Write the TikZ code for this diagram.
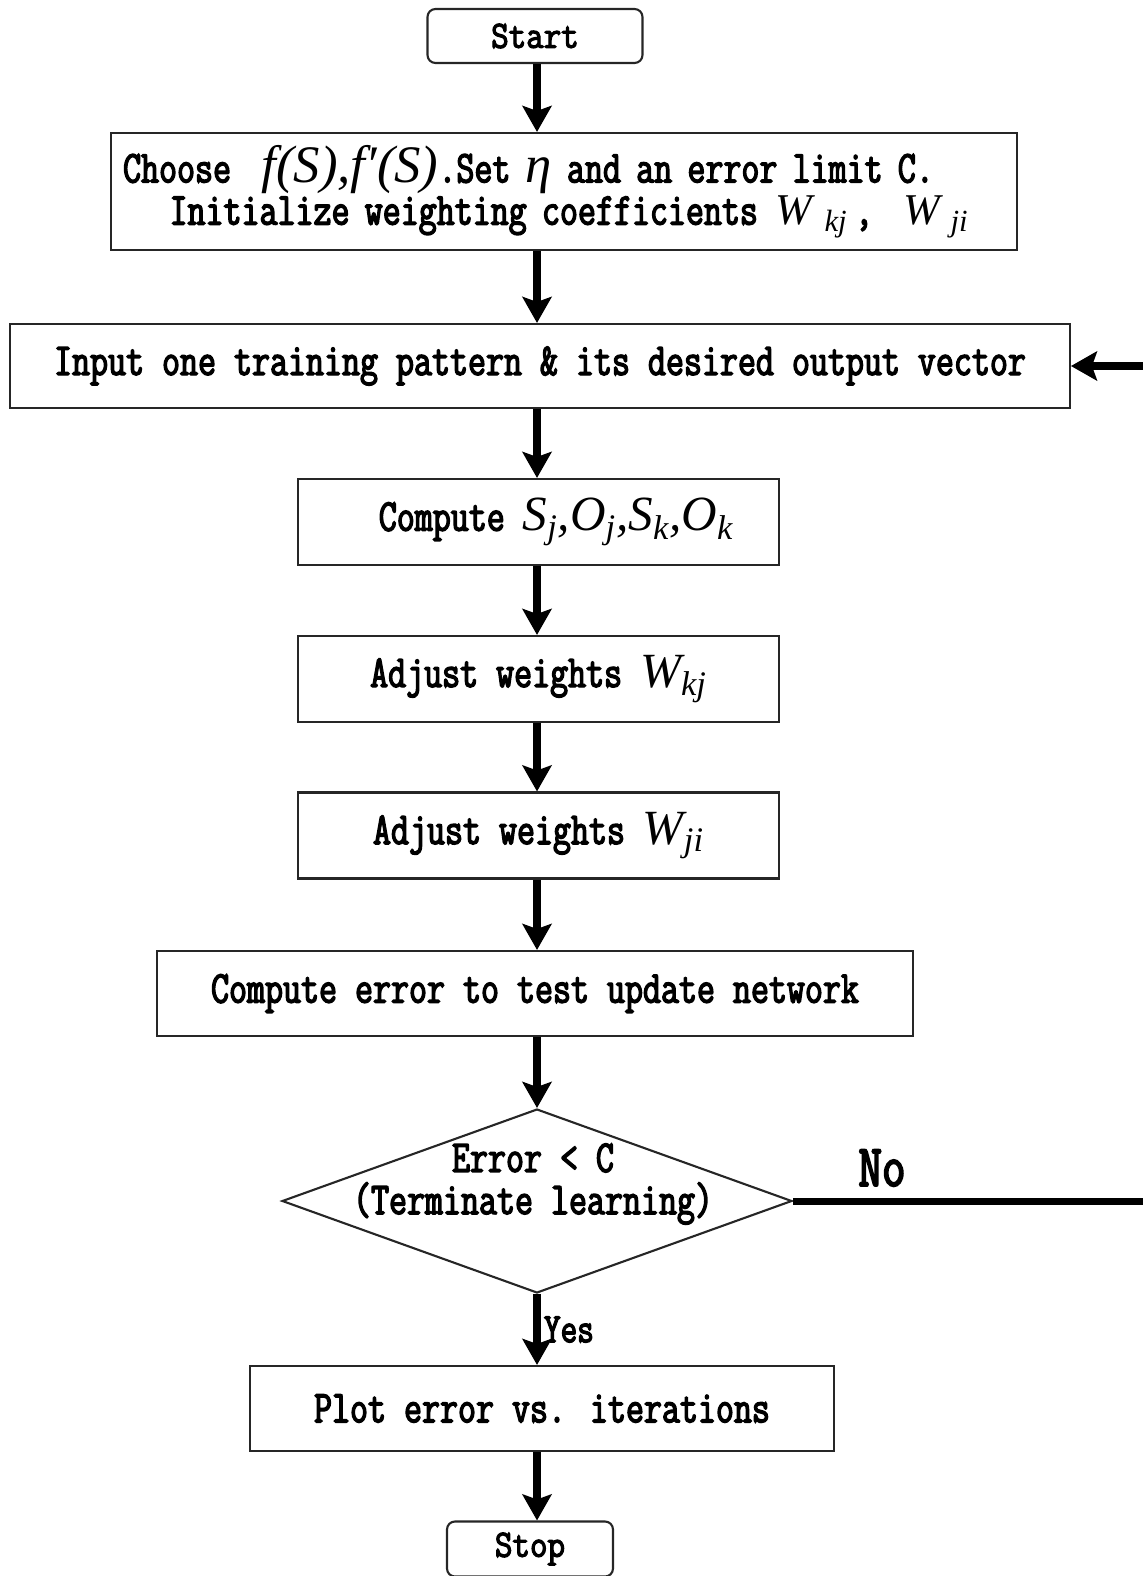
\documentclass[tikz,border=0pt]{standalone}
\usepackage{fontspec}
\usetikzlibrary{shapes.geometric,arrows.meta,positioning}
\newfontfamily\boxfont{Latin Modern Mono}[FakeStretch=0.765,
  BoldFont={Latin Modern Mono}, BoldFeatures={FakeBold=3}]
\newfontfamily\termfont{Latin Modern Mono}[FakeStretch=0.88,
  BoldFont={Latin Modern Mono}, BoldFeatures={FakeBold=3}]
\newfontfamily\mathserif{Liberation Serif}
\newcommand{\itm}[1]{{\mathserif\mdseries\itshape\fontsize{28}{28}\selectfont #1}}
\newcommand{\itmb}[1]{{\mathserif\mdseries\itshape\fontsize{30}{30}\selectfont #1}}
\newcommand{\itms}[1]{{\mathserif\mdseries\itshape\fontsize{25}{25}\selectfont #1}}
\tikzset{every picture/.style={line width=1.2pt}}
\tikzset{
  box/.style={draw=black!85, rectangle, inner sep=0pt,
    font={\boxfont\bfseries\fontsize{26}{24}\selectfont}},
  term/.style={draw=black!85, rectangle, rounded corners=4.5pt, inner sep=0pt,
    font={\termfont\bfseries\fontsize{22}{22}\selectfont}},
  test/.style={draw=black!85, diamond, inner sep=0pt},
  flow/.style={line width=4pt, -{Stealth[length=0.52cm,width=0.58cm,inset=0.1cm]}},
}

\begin{document}
\begin{tikzpicture}[x=0.02cm,y=-0.02cm]
\useasboundingbox (0,0) rectangle (1143,1576);
\clip (0,0) rectangle (1143,1576);
\coordinate (spine) at (537,0);
%
\node[term, minimum width=4.3cm, minimum height=1.08cm] (start) at (535,36) {Start};
\node[box, text width=18.12cm, minimum height=2.34cm, align=left] (init) at (564,191.5)
  {\hspace*{0.24cm}Choose\ \ \itmb{f(S),f′(S)}.Set \itmb{η} and an error limit C.\\
   \hspace*{1.17cm}Initialize weighting coefficients\hspace{0.35cm}\itms{W\hspace{0.25cm}\textsubscript{kj}}\hspace{0.15cm},\hspace{0.6cm}\itms{W\hspace{0.22cm}\textsubscript{ji}}};
\node[box, minimum width=21.2cm, minimum height=1.68cm] (input) at (540,366)
  {Input one training pattern \& its desired output vector};
\node[box, minimum width=9.62cm, minimum height=1.72cm] (comp) at (538.5,522)
  {\hspace*{0.7cm}Compute \itm{S\textsubscript{j},O\textsubscript{j},S\textsubscript{k},O\textsubscript{k}}};
\node[box, minimum width=9.62cm, minimum height=1.72cm] (adjkj) at (538.5,679)
  {Adjust weights \itm{W\textsubscript{kj}}};
\node[box, minimum width=9.62cm, minimum height=1.72cm] (adjji) at (538.5,835.5)
  {Adjust weights \itm{W\textsubscript{ji}}};
\node[box, minimum width=15.12cm, minimum height=1.7cm] (errcomp) at (535,993.5)
  {Compute error to test update network};
\node[test, minimum width=10.2cm, minimum height=3.68cm] (test) at (537,1201) {};
\node[box, draw=none, align=center] (testtxt) at (533,1184)
  {Error < C\\(Terminate learning)};
\node[box, minimum width=11.68cm, minimum height=1.7cm] (plot) at (542,1408.5)
  {Plot error vs. iterations};
\node[term, minimum width=3.32cm, minimum height=1.1cm] (stop) at (530,1549) {Stop};
%
\foreach \Source/\Target in {%
        start/init,
        init/input,
        input/comp,
        comp/adjkj,
        adjkj/adjji,
        adjji/errcomp,
        errcomp/test,
        plot/stop%
    }
\draw[flow] (\Source.south -| spine) to (\Target.north -| spine);
%
\draw[flow] (test.south) to node[pos=0.5, anchor=west, inner sep=2pt,
  font={\boxfont\bfseries\fontsize{24}{24}\selectfont}] (yes) {Yes} (plot.north -| test.south);
%
\coordinate (loop) at (1170,1201);
\draw[flow] (test.east) -- (loop) |- (input.east);
\node[font={\boxfont\bfseries\fontsize{34}{34}\selectfont}] (no) at (882,1168) {No};
\end{tikzpicture}
\end{document}
